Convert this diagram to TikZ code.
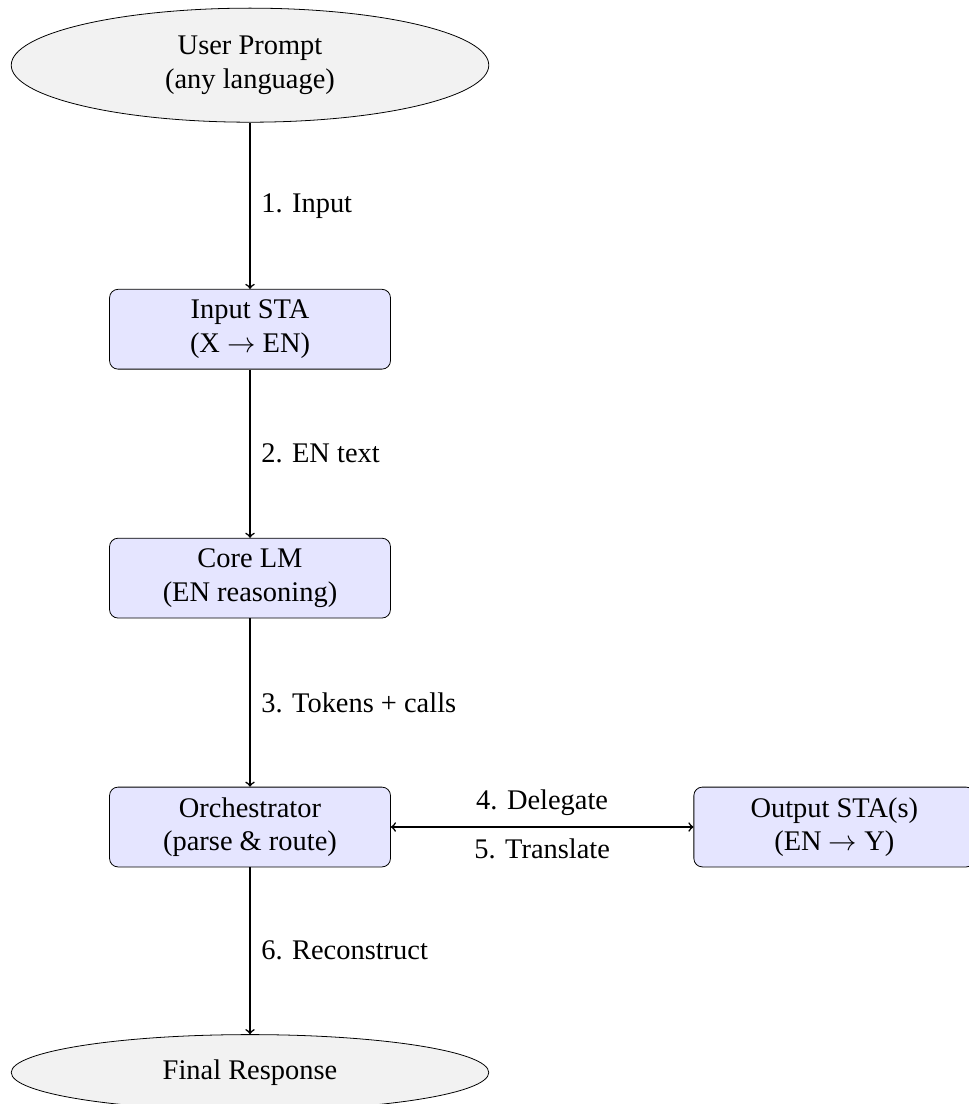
\documentclass[tikz,border=0pt]{standalone}
\usepackage{fontspec}
\setmainfont{Liberation Serif}
\usepackage{amsmath}
\usepackage{tikz}
\usetikzlibrary{arrows,shapes.geometric,positioning}

\begin{document}
\begin{tikzpicture}
	[font=\fontsize{14.4}{17}\selectfont, inner sep=3.33pt,
	terminal/.style	= {ellipse,draw,fill=gray!10,minimum width=8.5cm,align=center},
	module/.style	= {rectangle,draw,rounded corners=1.5mm,fill=blue!10,minimum width=5cm,minimum height=1.42cm,align=center},
	paths/.style	= {->, thick},
	covar/.style	= {<->, thick},
	step label/.style = {midway, right=2pt}]
	
	\useasboundingbox (-4.45, -4.93) rectangle (12.79, 14.72);
	
	\node at (0, 13.56)		[terminal, minimum height=2.03cm]	(prompt)	{User Prompt\\(any language)};
	\node at (0, 8.86)		[module]	(insta)		{Input STA\\(X $\rightarrow$ EN)};
	\node at (0, 4.43)		[module]	(core)		{Core LM\\(EN reasoning)};
	\node at (0, 0)			[module]	(orch)		{Orchestrator\\(parse \& route)};
	\node at (10.40, 0)		[module]	(outsta)	{Output STA(s)\\(EN $\rightarrow$ Y)};
	\node at (0, -4.37)		[terminal, minimum height=1.35cm]	(final)		{Final Response};
	
	\draw [paths] (prompt) -- (insta) node[step label] {1. Input};
	\draw [paths] (insta) -- (core) node[step label] {2. EN text};
	\draw [paths] (core) -- (orch) node[step label] {3. Tokens + calls};
	\draw [paths] (orch) -- (final) node[step label] {6. Reconstruct};
	
	\draw [covar] (orch.east) -- (outsta.west)
		node[midway, above=2pt] {4. Delegate}
		node[midway, below=2pt] {5. Translate};
\end{tikzpicture}
\end{document}
